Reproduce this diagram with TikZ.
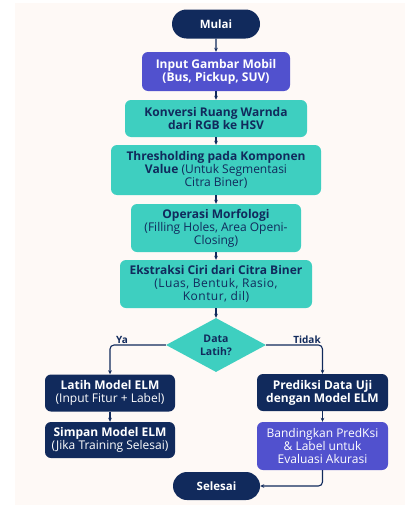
\documentclass[tikz,border=0pt]{standalone}
\usepackage{fontspec}
\setmainfont{Open Sans}
\usetikzlibrary{shapes.geometric,shapes.misc,arrows.meta}
\definecolor{navy}{HTML}{112A5C}
\definecolor{indigo}{HTML}{5151CE}
\definecolor{tealc}{HTML}{3ECFC0}
\definecolor{bgc}{HTML}{FEF9F6}
\newcommand\lspc{\addfontfeatures{LetterSpace=4}}
\begin{document}
\begin{tikzpicture}[x=1pt,y=-1pt,
  box/.style={rectangle, rounded corners=6pt, draw=none, align=center, inner sep=0pt,
    font=\fontsize{12}{13}\selectfont},
  tealbox/.style={box, fill=tealc, text=navy},
  navybox/.style={box, fill=navy, text=white},
  indbox/.style={box, fill=indigo, text=white},
  term/.style={rounded rectangle, fill=navy, text=white, inner sep=0pt,
    font=\fontsize{11.5}{13}\selectfont\bfseries},
  decbox/.style={diamond, fill=tealc, text=navy, align=center, inner sep=0pt,
    font=\fontsize{10.5}{13}\selectfont\bfseries},
  lbl/.style={text=navy, font=\fontsize{10}{11}\selectfont\bfseries, inner sep=0pt},
  conn/.style={draw=navy, line width=1.1pt, -{Stealth[length=4pt,width=3.6pt]}}
]
\useasboundingbox (0,0) rectangle (406,506);
\fill[bgc] (15,3) rectangle (405,505);

\node[term, minimum width=88pt, minimum height=29pt] (start) at (216,24) {Mulai};
\node[indbox, minimum width=148pt, minimum height=39pt] (inp) at (216,71.5)
  {\bfseries Input Gambar Mobil\\\bfseries (Bus, Pickup, SUV)};
\node[tealbox, minimum width=182pt, minimum height=37pt] (conv) at (216,118.5)
  {\bfseries Konversi Ruang Warnda\\\bfseries dari RGB ke HSV};
\node[tealbox, minimum width=210pt, minimum height=50pt] (thr) at (216,170)
  {\bfseries Thresholding pada Komponen\\{\bfseries Value} (Untuk Segmentasi\\Citra Biner)};
\node[tealbox, minimum width=170pt, minimum height=48pt] (mor) at (216,228)
  {\bfseries Operasi Morfologi\\(Filling Holes, Area Openi-\\Closing)};
\node[tealbox, minimum width=192pt, minimum height=48pt] (ext) at (216,284)
  {\bfseries Ekstraksi Ciri dari Citra Biner\\{\lspc(Luas, Bentuk, Rasio,}\\{\lspc Kontur, dil)}};
\node[decbox, minimum width=100pt, minimum height=54pt] (dec) at (216,345)
  {Data\\Latih?};
\node[navybox, minimum width=130pt, minimum height=37pt] (latih) at (110,393)
  {\bfseries Latih Model ELM\\(Input Fitur + Label)};
\node[navybox, minimum width=130pt, minimum height=36pt] (simpan) at (110,440)
  {\bfseries Simpan Model ELM\\(Jika Training Selesai)};
\node[navybox, minimum width=131pt, minimum height=37pt] (pred) at (322.5,392.5)
  {\bfseries Prediksi Data Uji\\\bfseries dengan Model ELM};
\node[indbox, minimum width=131pt, minimum height=48pt] (band) at (322.5,446)
  {Bandingkan PredKsi\\\& Label untuk\\Evaluasi Akurasi};
\node[term, minimum width=87pt, minimum height=28pt] (end) at (216.5,486) {Selesai};

\node[lbl] (ya) at (122,340) {Ya};
\node[lbl] (tidak) at (307,340) {Tidak};

\draw[conn] (start) -- (inp);
\draw[conn] (inp) -- (conv);
\draw[conn] (conv) -- (thr);
\draw[conn] (thr) -- (mor);
\draw[conn] (mor) -- (ext);
\draw[conn] (ext) -- (dec);
\draw[conn, rounded corners=4pt] (dec.west) -| (latih.north);
\draw[conn, rounded corners=4pt] (dec.east) -| (pred.north);
\draw[conn] (latih) -- (simpan);
\draw[conn] (pred) -- (band);
\draw[conn, rounded corners=4pt] (band.south) |- (end.east);
\end{tikzpicture}
\end{document}
